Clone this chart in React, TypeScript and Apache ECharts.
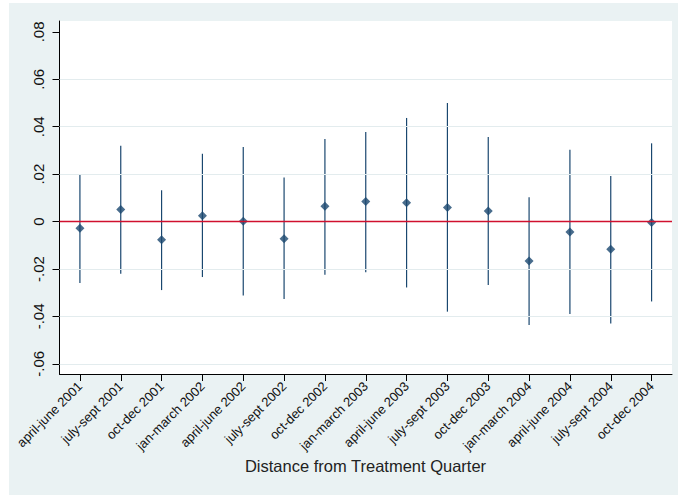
import React, { useEffect, useRef } from "react";
import * as echarts from "echarts";

const categories = [
  "april-june 2001", "july-sept 2001", "oct-dec 2001", "jan-march 2002",
  "april-june 2002", "july-sept 2002", "oct-dec 2002", "jan-march 2003",
  "april-june 2003", "july-sept 2003", "oct-dec 2003", "jan-march 2004",
  "april-june 2004", "july-sept 2004", "oct-dec 2004",
];
const estimates = [-0.0028, 0.0051, -0.0077, 0.0025, 0.0001, -0.0072, 0.0065, 0.0085, 0.0079, 0.0059, 0.0045, -0.0166, -0.0044, -0.0117, -0.0004];
const upper = [0.0196, 0.032, 0.0132, 0.0286, 0.0314, 0.0186, 0.0348, 0.0378, 0.0437, 0.05, 0.0357, 0.0103, 0.0303, 0.0192, 0.033];
const lower = [-0.0259, -0.022, -0.0289, -0.0234, -0.0312, -0.0327, -0.0224, -0.0214, -0.0278, -0.038, -0.0268, -0.0436, -0.039, -0.043, -0.0337];
const yTicks = [-0.06, -0.04, -0.02, 0, 0.02, 0.04, 0.06, 0.08];
const gridValues = [-0.06, -0.04, -0.02, 0.02, 0.04, 0.06];
const refLineValue = [0];
const xTitle = "Distance from Treatment Quarter";

const FONT = "'Liberation Sans', Arial, Helvetica, sans-serif";
const NAVY = "#1a476f";
const RED = "#d0102e";

function fmt(v: number): string {
  const r = Math.round(v * 100) / 100;
  if (r === 0) return "0";
  const s = Math.abs(r).toFixed(2).replace(/^0/, "");
  return (r < 0 ? "-" : "") + s;
}

export default function App() {
  const ref = useRef<HTMLDivElement>(null);
  useEffect(() => {
    if (!ref.current) return;
    const chart = echarts.init(ref.current, null, { renderer: "svg" });
    chart.setOption({
      animation: false,
      backgroundColor: "transparent",
      textStyle: { fontFamily: FONT },
      grid: {
        left: 59.5,
        top: 21,
        right: 6,
        bottom: 121,
        show: true,
        backgroundColor: "#ffffff",
        borderWidth: 0,
      },
      xAxis: {
        type: "category",
        data: categories,
        boundaryGap: true,
        axisLine: { show: true, onZero: false, lineStyle: { color: "#000", width: 1 } },
        axisTick: { show: true, alignWithLabel: true, length: 7, lineStyle: { color: "#000" } },
        axisLabel: {
          interval: 0,
          rotate: 45,
          margin: 10,
          fontSize: 13,
          color: "#111",
          fontFamily: FONT,
        },
        splitLine: { show: false },
      },
      yAxis: {
        type: "value",
        min: -0.0643,
        max: 0.0846,
        axisLine: { show: true, onZero: false, lineStyle: { color: "#000", width: 1 } },
        axisTick: { show: true, length: 7, customValues: yTicks, lineStyle: { color: "#000" } },
        axisLabel: {
          customValues: yTicks,
          rotate: 90,
          margin: 14,
          fontSize: 15,
          color: "#111",
          fontFamily: FONT,
          formatter: (v: number) => fmt(v),
        },
        splitLine: { show: false },
      },
      graphic: [
        {
          type: "text",
          x: 365.5,
          y: 466,
          style: {
            text: xTitle,
            fontSize: 16.5,
            fontFamily: FONT,
            fill: "#222",
            align: "center",
            verticalAlign: "middle",
          },
        },
      ],
      series: [
        {
          type: "custom",
          z: 2,
          data: categories.map((_, i) => [i, upper[i], lower[i]]),
          encode: { x: 0, y: [1, 2] },
          renderItem: (params: any, api: any) => {
            const i = api.value(0);
            const hi = api.coord([i, api.value(1)]);
            const lo = api.coord([i, api.value(2)]);
            return {
              type: "line",
              shape: { x1: hi[0], y1: hi[1], x2: lo[0], y2: lo[1] },
              style: { stroke: NAVY, lineWidth: 1.2 },
            };
          },
          markLine: {
            silent: true,
            symbol: "none",
            label: { show: false },
            lineStyle: { color: "#e3ecee", width: 1, type: "solid" },
            data: gridValues.map((v) => ({ yAxis: v })),
          },
        },
        {
          type: "scatter",
          z: 4,
          data: estimates,
          symbol: "diamond",
          symbolSize: 9,
          itemStyle: { color: NAVY },
        },
        {
          type: "line",
          z: 3,
          data: [],
          color: RED,
          markLine: {
            silent: true,
            symbol: "none",
            label: { show: false },
            lineStyle: { color: RED, width: 1.3, type: "solid", opacity: 1 },
            data: refLineValue.map((v) => ({ yAxis: v, lineStyle: { color: RED } })),
          },
        },
      ],
    });
    return () => chart.dispose();
  }, []);

  return (
    <div style={{ position: "fixed", left: 0, top: 0, width: 678, height: 495, background: "#fff" }}>
      <div style={{ position: "absolute", left: 9, top: 3, width: 669, height: 492, background: "#eaf2f3" }} />
      <div ref={ref} style={{ position: "absolute", left: 0, top: 0, width: 678, height: 495 }} />
    </div>
  );
}
